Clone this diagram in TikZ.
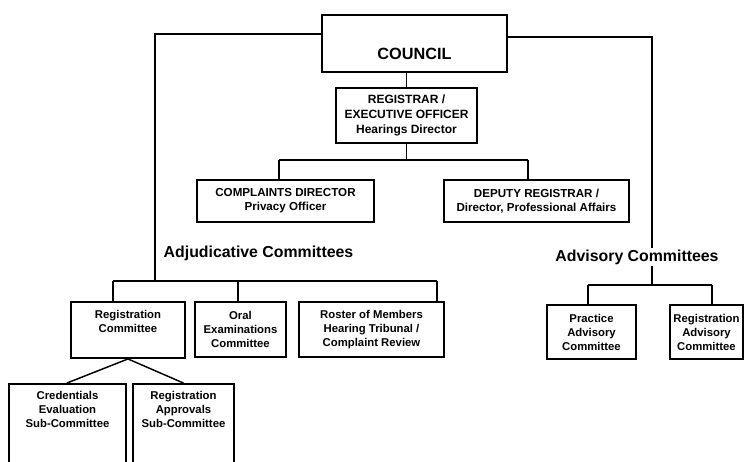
\documentclass[tikz,border=0pt]{standalone}
\usepackage{fontspec}
\setmainfont{Liberation Sans}
\begin{document}
\begin{tikzpicture}[x=0.75pt,y=-0.75pt,
  conn/.style={draw, line width=1.1pt},
  box/.style={draw, line width=1.4pt, align=center, inner sep=0pt, fill=white},
  fbig/.style={font=\bfseries\fontsize{12.2}{14}\selectfont},
  fmid/.style={font=\bfseries\fontsize{9}{11.25}\selectfont},
  fsmall/.style={font=\bfseries\fontsize{8.7}{10.5}\selectfont},
  fcom/.style={font=\bfseries\fontsize{8.5}{10.5}\selectfont},
  grouplabel/.style={font=\bfseries\fontsize{11.9}{14}\selectfont, fill=white, inner sep=1pt}]
\useasboundingbox (0,0) rectangle (748,461);
\clip (0,0) rectangle (748,461);

% top level
\node (council) [box, fbig, minimum width=138.75pt, minimum height=42.75pt] at (414.5,43.5)
  {\raisebox{-7.5pt}[\height][\depth]{COUNCIL}};
\node (registrar) [box, fmid, minimum width=105.75pt, minimum height=41.25pt] at (406.5,115.5)
  {REGISTRAR /\\EXECUTIVE OFFICER\\Hearings Director};
\node (complaints) [box, fsmall, minimum width=132.75pt, minimum height=31.5pt] at (285.5,201)
  {COMPLAINTS DIRECTOR\\Privacy Officer};
\node (deputy) [box, fsmall, minimum width=138.75pt, minimum height=31.5pt] at (536.5,201)
  {DEPUTY REGISTRAR /\\Director, Professional Affairs};

% group labels
\node (adj) [grouplabel] at (258.5,253) {Adjudicative Committees};
\node (adv) [grouplabel] at (637,257) {Advisory Committees};

% adjudicative committees
\node (regc) [box, fcom, minimum width=85.5pt, minimum height=42pt] at (128,330)
  {\raisebox{5.6pt}[\height][\depth]{\begin{tabular}{@{}c@{}}Registration\\Committee\end{tabular}}};
\node (oral) [box, fcom, minimum width=68.25pt, minimum height=41.25pt] at (240.5,329.5)
  {Oral\\Examinations\\Committee};
\node (roster) [box, fcom, minimum width=108.75pt, minimum height=41.25pt] at (371.5,329.5)
  {Roster of Members\\Hearing Tribunal /\\Complaint Review};
\node (cred) [box, fcom, minimum width=87.75pt, minimum height=72pt] at (67.5,432)
  {\raisebox{15.75pt}[\height][\depth]{\begin{tabular}{@{}c@{}}Credentials\\Evaluation\\Sub-Committee\end{tabular}}};
\node (appr) [box, fcom, minimum width=75.75pt, minimum height=72pt] at (183.5,432)
  {\raisebox{15.75pt}[\height][\depth]{\begin{tabular}{@{}c@{}}Registration\\Approvals\\Sub-Committee\end{tabular}}};

% advisory committees
\node (prac) [box, fcom, minimum width=66.75pt, minimum height=40.5pt] at (591.5,332)
  {Practice\\Advisory\\Committee};
\node (regadv) [box, fcom, minimum width=54.75pt, minimum height=40.5pt] at (706.5,332)
  {Registration\\Advisory\\Committee};

% coordinates for connector corners
\coordinate (cl) at (155,34);
\coordinate (ajoin) at (155,281);
\coordinate (a1) at (113,281);
\coordinate (a2) at (238,281);
\coordinate (a3) at (437,281);
\coordinate (cr) at (652,37);
\coordinate (vjoin) at (652,285);
\coordinate (v1) at (588,285);
\coordinate (v2) at (712,285);
\coordinate (r1) at (279,160);
\coordinate (r2) at (528,160);
\coordinate (rmid) at (406.5,160);

% connectors
\draw[conn] (council.south -| registrar.north) -- (registrar.north);
\draw[conn] (registrar.south) -- (rmid);
\draw[conn] (r1) -- (r2);
\draw[conn] (r1) -- (complaints.north -| r1);
\draw[conn] (r2) -- (deputy.north -| r2);

\draw[conn] (council.west |- cl) -- (cl) -- (ajoin);
\draw[conn] (a1) -- (a3);
\draw[conn] (a1) -- (regc.north -| a1);
\draw[conn] (a2) -- (oral.north -| a2);
\draw[conn] (a3) -- (roster.north -| a3);

\draw[conn] (council.east |- cr) -- (cr) -- (adv.north -| cr);
\draw[conn] (adv.south -| cr) -- (vjoin);
\draw[conn] (v1) -- (v2);
\draw[conn] (v1) -- (prac.north -| v1);
\draw[conn] (v2) -- (regadv.north -| v2);

\draw[conn] (regc.south) -- ([xshift=-0.5pt]cred.north);
\draw[conn] (regc.south) -- (appr.north);
\end{tikzpicture}
\end{document}
